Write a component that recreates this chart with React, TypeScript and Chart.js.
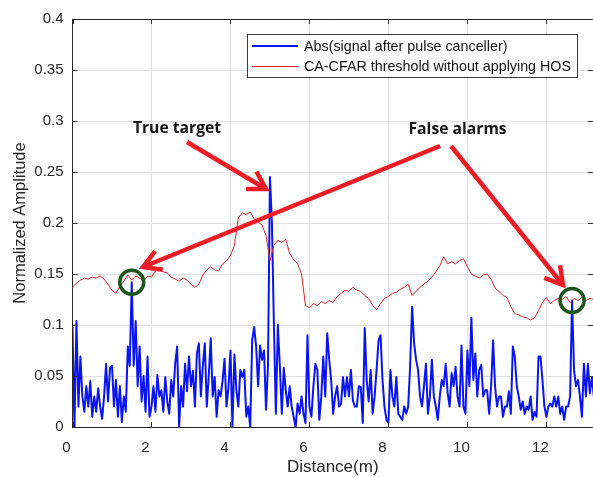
import React, { useEffect, useRef } from 'react';
import { Chart, registerables } from 'chart.js';

Chart.register(...registerables);

// ---- data ----
const SIGNAL_STEP = 0.05; // metres between samples of the blue signal
const THRESHOLD_STEP = 0.1; // metres between samples of the red threshold

const signalValues = [
  0.098, 0.0, 0.104, 0.02, 0.069, 0.03, 0.015, 0.04, 0.02, 0.045, 0.01, 0.03, 0.015, 0.038, 0.02, 0.008, 0.03, 0.062, 0.025, 0.058,
  0.06, 0.02, 0.046, 0.01, 0.04, 0.005, 0.03, 0.015, 0.079, 0.06, 0.142, 0.06, 0.104, 0.04, 0.079, 0.025, 0.05, 0.015, 0.069, 0.01,
  0.02, 0.04, 0.015, 0.051, 0.03, 0.036, 0.015, 0.049, 0.025, 0.013, 0.046, 0.03, 0.062, 0.079, 0.0, 0.04, 0.02, 0.062, 0.035, 0.069,
  0.04, 0.055, 0.02, 0.072, 0.082, 0.03, 0.06, 0.082, 0.02, 0.05, 0.087, 0.03, 0.049, 0.01, 0.036, 0.03, 0.045, 0.067, 0.02, 0.039,
  0.075, 0.0, 0.071, 0.036, 0.02, 0.056, 0.049, 0.056, 0.01, 0.02, 0.0, 0.085, 0.098, 0.079, 0.04, 0.08, 0.066, 0.075, 0.017, 0.06,
  0.245, 0.2, 0.1, 0.013, 0.1, 0.06, 0.013, 0.058, 0.036, 0.02, 0.04, 0.02, 0.01, 0.0, 0.023, 0.013, 0.03, 0.013, 0.004, 0.09,
  0.02, 0.01, 0.04, 0.062, 0.056, 0.007, 0.03, 0.069, 0.03, 0.092, 0.066, 0.046, 0.013, 0.03, 0.04, 0.02, 0.023, 0.049, 0.03, 0.049,
  0.03, 0.056, 0.026, 0.02, 0.02, 0.04, 0.039, 0.004, 0.097, 0.046, 0.025, 0.056, 0.013, 0.03, 0.056, 0.085, 0.09, 0.046, 0.02, 0.007,
  0.004, 0.056, 0.03, 0.02, 0.049, 0.013, 0.01, 0.007, 0.02, 0.013, 0.02, 0.06, 0.118, 0.082, 0.066, 0.056, 0.03, 0.02, 0.04, 0.062,
  0.013, 0.03, 0.066, 0.03, 0.02, 0.007, 0.03, 0.046, 0.04, 0.062, 0.033, 0.02, 0.053, 0.04, 0.059, 0.03, 0.02, 0.08, 0.02, 0.013,
  0.075, 0.04, 0.107, 0.046, 0.072, 0.03, 0.056, 0.061, 0.03, 0.036, 0.036, 0.013, 0.04, 0.085, 0.04, 0.02, 0.03, 0.03, 0.01, 0.02,
  0.02, 0.035, 0.013, 0.079, 0.069, 0.04, 0.03, 0.017, 0.025, 0.013, 0.02, 0.017, 0.03, 0.007, 0.015, 0.01, 0.069, 0.069, 0.046, 0.02,
  0.01, 0.02, 0.023, 0.02, 0.03, 0.02, 0.03, 0.013, 0.02, 0.007, 0.02, 0.02, 0.03, 0.124, 0.056, 0.04, 0.046, 0.03, 0.01, 0.062,
  0.03, 0.062, 0.033, 0.049, 0.03,
];

const thresholdValues = [
  0.137, 0.141, 0.144, 0.146, 0.145, 0.147, 0.146, 0.148, 0.145, 0.140,
  0.134, 0.131, 0.138, 0.143, 0.149, 0.144, 0.148, 0.146, 0.143, 0.148,
  0.147, 0.153, 0.156, 0.152, 0.151, 0.147, 0.145, 0.143, 0.146, 0.144,
  0.140, 0.137, 0.140, 0.149, 0.154, 0.157, 0.154, 0.153, 0.160, 0.163,
  0.168, 0.178, 0.205, 0.210, 0.208, 0.211, 0.204, 0.201, 0.198, 0.188,
  0.163, 0.178, 0.183, 0.181, 0.184, 0.170, 0.164, 0.160, 0.150, 0.119,
  0.117, 0.121, 0.119, 0.123, 0.121, 0.124, 0.122, 0.128, 0.131, 0.134,
  0.133, 0.137, 0.134, 0.133, 0.129, 0.126, 0.119, 0.115, 0.121, 0.126,
  0.128, 0.131, 0.132, 0.135, 0.137, 0.140, 0.129, 0.133, 0.137, 0.140,
  0.143, 0.147, 0.152, 0.158, 0.167, 0.160, 0.162, 0.160, 0.163, 0.165,
  0.157, 0.150, 0.148, 0.146, 0.149, 0.150, 0.145, 0.136, 0.133, 0.129,
  0.127, 0.118, 0.111, 0.110, 0.108, 0.107, 0.105, 0.107, 0.114, 0.122,
  0.127, 0.121, 0.124, 0.126, 0.125, 0.128, 0.122, 0.126, 0.124, 0.127,
  0.124, 0.126, 0.125,
];

const xTickValues = [0, 2, 4, 6, 8, 10, 12];
const xTickLabels = ['0', '2', '4', '6', '8', '10', '12'];
const yTickValues = [0, 0.05, 0.1, 0.15, 0.2, 0.25, 0.3, 0.35, 0.4];
const yTickLabels = ['0', '0.05', '0.1', '0.15', '0.2', '0.25', '0.3', '0.35', '0.4'];

const seriesNames = ['Abs(signal after pulse canceller)', 'CA-CFAR threshold without applying HOS'];
const axisTitles = { x: 'Distance(m)', y: 'Normalized Amplitude' };

// annotations (data coordinates)
const noteTexts = ['True target', 'False alarms'];
const noteX = [2.646, 9.75];
const noteY = [0.2931, 0.2912];
const arrowFromX = [2.9, 9.31, 9.585];
const arrowFromY = [0.2794, 0.2755, 0.2755];
const arrowToX = [4.9, 1.785, 12.42];
const arrowToY = [0.2333, 0.1569, 0.1392];
const circleX = [1.5, 12.65];
const circleY = [0.142, 0.124];

const X_MAX = 13.18;
const Y_MAX = 0.4;

const BLUE = '#0a14f0';
const RED = '#d8262a';
const ARROW_RED = '#ee1c25';
const CIRCLE_GREEN = '#1c561f';
const AXIS = '#262626';
const FONT = '"Liberation Sans", Arial, sans-serif';

function drawArrow(ctx: CanvasRenderingContext2D, x1: number, y1: number, x2: number, y2: number) {
  const ang = Math.atan2(y1 - y2, x1 - x2);
  const L = 20;
  const a = 0.53;
  ctx.beginPath();
  ctx.moveTo(x1, y1);
  ctx.lineTo(x2, y2);
  ctx.stroke();
  ctx.beginPath();
  ctx.moveTo(x2 + L * Math.cos(ang + a), y2 + L * Math.sin(ang + a));
  ctx.lineTo(x2, y2);
  ctx.lineTo(x2 + L * Math.cos(ang - a), y2 + L * Math.sin(ang - a));
  ctx.stroke();
}

const overlayPlugin = {
  id: 'overlay',
  afterDraw(chart: any) {
    const ctx: CanvasRenderingContext2D = chart.ctx;
    const { left, right, top, bottom } = chart.chartArea;
    const xs = chart.scales.x;
    const ys = chart.scales.y;
    ctx.save();

    // axes box and inward ticks (MATLAB style)
    ctx.strokeStyle = AXIS;
    ctx.lineWidth = 1;
    ctx.beginPath();
    ctx.moveTo(left, Math.round(top) + 0.5);
    ctx.lineTo(right, Math.round(top) + 0.5);
    ctx.moveTo(left, Math.round(bottom) + 0.5);
    ctx.lineTo(right, Math.round(bottom) + 0.5);
    ctx.moveTo(Math.floor(left) + 0.5, top);
    ctx.lineTo(Math.floor(left) + 0.5, bottom + 1);
    const tl = 5;
    xTickValues.forEach((v) => {
      const px = Math.round(xs.getPixelForValue(v)) + 0.5;
      ctx.moveTo(px, bottom);
      ctx.lineTo(px, bottom - tl);
      ctx.moveTo(px, top);
      ctx.lineTo(px, top + tl);
    });
    yTickValues.forEach((v) => {
      const py = Math.round(ys.getPixelForValue(v)) + 0.5;
      ctx.moveTo(left, py);
      ctx.lineTo(left + tl, py);
      ctx.moveTo(right, py);
      ctx.lineTo(right - tl, py);
    });
    ctx.stroke();

    // axis titles
    ctx.fillStyle = AXIS;
    ctx.font = `17px ${FONT}`;
    ctx.textAlign = 'center';
    ctx.textBaseline = 'alphabetic';
    ctx.fillText(axisTitles.x, (left + right) / 2, 472);
    ctx.save();
    ctx.translate(24.5, (top + bottom) / 2);
    ctx.rotate(-Math.PI / 2);
    ctx.font = `16.5px ${FONT}`;
    ctx.fillText(axisTitles.y, 0, 0);
    ctx.restore();

    // legend
    const lx = 247.5, ly = 34.5, lw = 330, lh = 43;
    ctx.fillStyle = '#ffffff';
    ctx.fillRect(lx, ly, lw, lh);
    ctx.strokeStyle = '#3a3a3a';
    ctx.lineWidth = 1;
    ctx.strokeRect(lx, ly, lw, lh);
    ctx.lineCap = 'butt';
    ctx.strokeStyle = BLUE;
    ctx.lineWidth = 2;
    ctx.beginPath();
    ctx.moveTo(252, 46);
    ctx.lineTo(298, 46);
    ctx.stroke();
    ctx.strokeStyle = RED;
    ctx.lineWidth = 1;
    ctx.beginPath();
    ctx.moveTo(252, 66.5);
    ctx.lineTo(298, 66.5);
    ctx.stroke();
    ctx.fillStyle = '#111111';
    ctx.font = `14.3px ${FONT}`;
    ctx.textAlign = 'left';
    ctx.textBaseline = 'middle';
    ctx.fillText(seriesNames[0], 304, 47);
    ctx.fillText(seriesNames[1], 304, 67);

    // circles around false alarms
    ctx.strokeStyle = CIRCLE_GREEN;
    ctx.lineWidth = 3.5;
    circleX.forEach((cx, i) => {
      ctx.beginPath();
      ctx.arc(xs.getPixelForValue(cx), ys.getPixelForValue(circleY[i]), 12, 0, Math.PI * 2);
      ctx.stroke();
    });

    // arrows
    ctx.strokeStyle = ARROW_RED;
    ctx.lineWidth = 4.5;
    ctx.lineJoin = 'miter';
    ctx.lineCap = 'butt';
    arrowFromX.forEach((fx, i) => {
      drawArrow(
        ctx,
        xs.getPixelForValue(fx),
        ys.getPixelForValue(arrowFromY[i]),
        xs.getPixelForValue(arrowToX[i]),
        ys.getPixelForValue(arrowToY[i])
      );
    });

    // annotation texts
    ctx.fillStyle = '#141414';
    ctx.font = 'bold 15.7px "Open Sans", sans-serif';
    ctx.textAlign = 'center';
    ctx.textBaseline = 'middle';
    noteTexts.forEach((t, i) => {
      ctx.fillText(t, xs.getPixelForValue(noteX[i]), ys.getPixelForValue(noteY[i]));
    });

    ctx.restore();
  },
};

export default function App() {
  const canvasRef = useRef<HTMLCanvasElement>(null);

  useEffect(() => {
    const canvas = canvasRef.current;
    if (!canvas) return;
    const signalPoints = signalValues.map((v, i) => ({ x: i * SIGNAL_STEP, y: v }));
    const thresholdPoints = thresholdValues.map((v, i) => ({ x: i * THRESHOLD_STEP, y: v }));

    const chart = new Chart(canvas, {
      type: 'line',
      data: {
        datasets: [
          {
            label: seriesNames[0],
            data: signalPoints,
            borderColor: BLUE,
            borderWidth: 2,
            pointRadius: 0,
            tension: 0,
            borderJoinStyle: 'round',
            order: 1,
          },
          {
            label: seriesNames[1],
            data: thresholdPoints,
            borderColor: RED,
            borderWidth: 1,
            pointRadius: 0,
            tension: 0,
            order: 0,
          },
        ],
      },
      options: {
        animation: false,
        responsive: false,
        devicePixelRatio: 1,
        parsing: false,
        normalized: true,
        layout: { padding: { top: 19, right: 0, left: 0, bottom: 0 } },
        plugins: {
          legend: { display: false },
          tooltip: { enabled: false },
        },
        scales: {
          x: {
            type: 'linear',
            min: 0,
            max: X_MAX,
            afterBuildTicks: (scale: any) => {
              scale.ticks = xTickValues.map((v) => ({ value: v }));
            },
            afterFit: (scale: any) => {
              scale.height = 50;
            },
            ticks: {
              callback: (_v: any, i: number) => xTickLabels[i],
              font: { family: 'Liberation Sans', size: 15 },
              color: AXIS,
              padding: 12,
              labelOffset: -6,
              maxRotation: 0,
              autoSkip: false,
            },
            grid: { color: '#e2e2e2', lineWidth: 1, drawTicks: false },
            border: { display: false },
          },
          y: {
            type: 'linear',
            min: 0,
            max: Y_MAX,
            afterBuildTicks: (scale: any) => {
              scale.ticks = yTickValues.map((v) => ({ value: v }));
            },
            afterFit: (scale: any) => {
              scale.width = 72.5;
            },
            ticks: {
              callback: (_v: any, i: number) => yTickLabels[i],
              font: { family: 'Liberation Sans', size: 15 },
              color: AXIS,
              padding: 9,
              autoSkip: false,
            },
            grid: { color: '#e2e2e2', lineWidth: 1, drawTicks: false },
            border: { display: false },
          },
        },
      },
      plugins: [overlayPlugin],
    } as any);

    return () => chart.destroy();
  }, []);

  return (
    <div style={{ position: 'absolute', left: 0, top: 0, width: 593, height: 477, background: '#ffffff' }}>
      <canvas ref={canvasRef} width={593} height={477} style={{ display: 'block', width: 593, height: 477 }} />
    </div>
  );
}
